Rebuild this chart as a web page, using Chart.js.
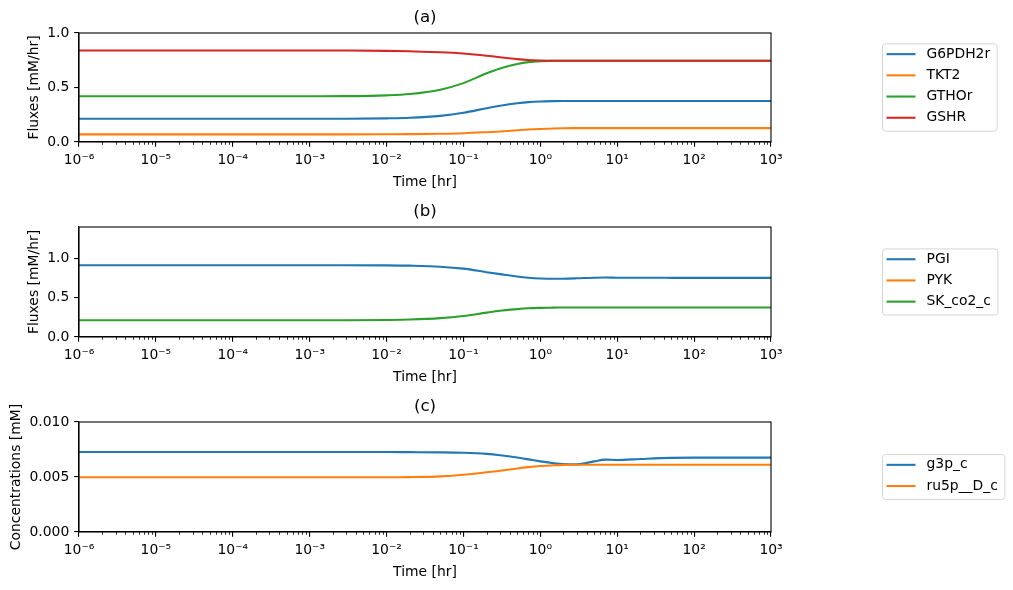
<!DOCTYPE html>
<html><head><meta charset="utf-8">
<script src="https://cdn.jsdelivr.net/npm/chart.js@4.4.0/dist/chart.umd.min.js"></script>
<style>
html,body{margin:0;padding:0;background:#fff;width:1013px;height:590px;overflow:hidden}
.w{position:absolute;left:0;width:1013px;height:195px}
canvas{display:block}
</style></head><body>
<div class="w" style="top:0"><canvas id="ca" width="1013" height="195"></canvas></div>
<div class="w" style="top:195px"><canvas id="cb" width="1013" height="195"></canvas></div>
<div class="w" style="top:390px"><canvas id="cc" width="1013" height="195"></canvas></div>
<script>
// ---- data ----
const times = [1e-6, 1e-5, 1e-4, 1e-3, 3e-3, 1e-2, 2e-2, 5e-2, 0.1, 0.2, 0.3, 0.5, 0.7, 1, 1.5, 2, 3, 5, 7, 10, 20, 50, 100, 1000];

const G6PDH2r = [0.214,0.214,0.214,0.214,0.214,0.217,0.222,0.240,0.268,0.310,0.332,0.355,0.366,0.372,0.375,0.376,0.376,0.376,0.376,0.376,0.376,0.376,0.376,0.376];
const TKT2    = [0.070,0.070,0.070,0.070,0.070,0.071,0.072,0.075,0.080,0.090,0.097,0.108,0.115,0.120,0.124,0.126,0.127,0.127,0.127,0.127,0.127,0.127,0.127,0.127];
const GTHOr   = [0.420,0.420,0.420,0.420,0.421,0.428,0.440,0.480,0.540,0.630,0.675,0.715,0.733,0.742,0.745,0.746,0.746,0.746,0.746,0.746,0.746,0.746,0.746,0.746];
const GSHR    = [0.840,0.840,0.840,0.840,0.839,0.836,0.832,0.824,0.812,0.792,0.777,0.760,0.752,0.748,0.746,0.746,0.746,0.746,0.746,0.746,0.746,0.746,0.746,0.746];

const PGI     = [0.914,0.914,0.914,0.914,0.914,0.912,0.908,0.895,0.870,0.825,0.800,0.770,0.755,0.745,0.741,0.742,0.747,0.755,0.757,0.755,0.754,0.753,0.753,0.753];
// PYK lies above the plotted y range (0 to 1.4) and is therefore not visible
const PYK     = [2.24,2.24,2.24,2.24,2.24,2.24,2.24,2.23,2.22,2.21,2.20,2.20,2.20,2.20,2.20,2.20,2.20,2.20,2.20,2.20,2.20,2.20,2.20,2.20];
const SK_co2_c= [0.214,0.214,0.214,0.214,0.214,0.217,0.222,0.240,0.268,0.310,0.333,0.355,0.366,0.371,0.374,0.376,0.376,0.376,0.376,0.376,0.376,0.376,0.376,0.376];

const g3p_c    = [0.00727,0.00727,0.00727,0.00727,0.00727,0.00727,0.00726,0.00724,0.00720,0.00710,0.00698,0.00677,0.00660,0.00642,0.00625,0.00617,0.00615,0.00642,0.00658,0.00655,0.00664,0.00674,0.00676,0.00676];
const ru5p__D_c= [0.00497,0.00497,0.00497,0.00497,0.00497,0.00497,0.00499,0.00506,0.00520,0.00543,0.00556,0.00578,0.00590,0.00600,0.00607,0.00610,0.00612,0.00612,0.00612,0.00612,0.00612,0.00612,0.00612,0.00612];

const xTickValues = [1e-6, 1e-5, 1e-4, 1e-3, 1e-2, 1e-1, 1e0, 1e1, 1e2, 1e3];
const yTicksA = [0, 0.5, 1.0];
const yTicksB = [0, 0.5, 1.0];
const yTicksC = [0, 0.005, 0.010];

const C = {blue:'#1f77b4', orange:'#ff7f0e', green:'#2ca02c', red:'#d62728'};
// ---- rendering ----
const FONT = "'DejaVu Sans', sans-serif";
Chart.defaults.font.family = FONT;
Chart.defaults.color = '#000';
const SUP = {'-':'\u207B','0':'\u2070','1':'\u00B9','2':'\u00B2','3':'\u00B3','4':'\u2074','5':'\u2075','6':'\u2076','7':'\u2077','8':'\u2078','9':'\u2079'};

const mplPlugin = {
  id: 'mpl',
  afterDraw(chart, args, opts) {
    const ctx = chart.ctx, a = chart.chartArea, xs = chart.scales.x;
    ctx.save();
    // minor ticks
    ctx.strokeStyle = '#000'; ctx.lineWidth = 0.8;
    for (let k = -6; k < 3; k++) {
      for (let m = 2; m <= 9; m++) {
        const px = Math.round(xs.getPixelForValue(m * Math.pow(10, k))) + 0.5;
        ctx.beginPath(); ctx.moveTo(px, a.bottom); ctx.lineTo(px, a.bottom + 2.8); ctx.stroke();
      }
    }
    // spines
    ctx.lineWidth = 1.1;
    ctx.strokeRect(a.left, a.top, a.right - a.left, a.bottom - a.top);
    // axes title
    ctx.fillStyle = '#000';
    ctx.font = "16.67px " + FONT;
    ctx.textAlign = 'center'; ctx.textBaseline = 'middle';
    ctx.fillText(opts.title, (a.left + a.right) / 2, a.top - 15);
    // legend
    const ds = chart.data.datasets;
    ctx.font = "13.9px " + FONT;
    const tw = Math.max(...ds.map(d => ctx.measureText(d.label).width));
    const x0 = 882.5, w = 44 + tw + 7, rowH = 21.2;
    const h = ds.length * rowH + 2.5;
    const y0 = (a.top + a.bottom) / 2 - h / 2;
    ctx.beginPath();
    ctx.roundRect(x0, y0, w, h, 3);
    ctx.fillStyle = 'rgba(255,255,255,0.8)'; ctx.fill();
    ctx.strokeStyle = '#d5d5d5'; ctx.lineWidth = 1; ctx.stroke();
    ds.forEach((d, i) => {
      const y = y0 + 10.3 + i * rowH;
      ctx.strokeStyle = d.borderColor; ctx.lineWidth = 2.08;
      ctx.beginPath(); ctx.moveTo(x0 + 4, y); ctx.lineTo(x0 + 33, y); ctx.stroke();
      ctx.fillStyle = '#000'; ctx.textBaseline = 'middle'; ctx.textAlign = 'left';
      ctx.fillText(d.label, x0 + 44, y);
    });
    ctx.restore();
  }
};

function axisCommon() {
  return {
    grid: {display: true, drawOnChartArea: false, drawTicks: true, tickLength: 4.86, color: '#000', lineWidth: 1.1},
    border: {display: true, color: '#000', width: 1.1}
  };
}

function makeChart(id, title, topPad, ylabel, ylabelPad, yMax, yTicks, yDigits, series) {
  return new Chart(document.getElementById(id), {
    type: 'line',
    data: {
      datasets: series.map((s, i) => ({
        label: s.label,
        data: times.map((t, j) => ({x: t, y: s.values[j]})),
        borderColor: s.color, backgroundColor: s.color,
        borderWidth: 2.08, pointRadius: 0, cubicInterpolationMode: 'monotone',
        fill: false, order: -i, clip: 0
      }))
    },
    options: {
      responsive: false, animation: false, events: [],
      layout: {padding: {left: 0, right: 242, top: topPad, bottom: 0}},
      plugins: {
        legend: {display: false}, tooltip: {enabled: false}, title: {display: false},
        mpl: {title: title}
      },
      scales: {
        x: Object.assign(axisCommon(), {
          type: 'logarithmic', min: 1e-6, max: 1e3,
          afterBuildTicks: s => { s.ticks = xTickValues.map(v => ({value: v, major: true})); },
          afterFit: s => { s.height = 53; },
          ticks: {autoSkip: false, maxRotation: 0, minRotation: 0, color: '#000', font: {size: 13.9}, padding: 5,
            callback: v => '10' + String(Math.round(Math.log10(v))).split('').map(c => SUP[c]).join('')},
          title: {display: true, text: 'Time [hr]', color: '#000', font: {size: 13.9}, padding: {top: 0, bottom: 4.7}}
        }),
        y: Object.assign(axisCommon(), {
          type: 'linear', min: 0, max: yMax,
          afterBuildTicks: s => { s.ticks = yTicks.map(v => ({value: v})); },
          afterFit: s => { s.width = 79; },
          ticks: {color: '#000', font: {size: 13.9}, padding: 4.86, callback: v => Number(v).toFixed(yDigits)},
          title: {display: true, text: ylabel, color: '#000', font: {size: 13.9}, padding: {top: ylabelPad, bottom: 0}}
        })
      }
    },
    plugins: [mplPlugin]
  });
}

makeChart('ca', '(a)', 33, 'Fluxes [mM/hr]', 25.7, 1.0, yTicksA, 1, [
  {label: 'G6PDH2r', values: G6PDH2r, color: C.blue},
  {label: 'TKT2', values: TKT2, color: C.orange},
  {label: 'GTHOr', values: GTHOr, color: C.green},
  {label: 'GSHR', values: GSHR, color: C.red}
]);
makeChart('cb', '(b)', 32, 'Fluxes [mM/hr]', 25.7, 1.4, yTicksB, 1, [
  {label: 'PGI', values: PGI, color: C.blue},
  {label: 'PYK', values: PYK, color: C.orange},
  {label: 'SK_co2_c', values: SK_co2_c, color: C.green}
]);
makeChart('cc', '(c)', 32, 'Concentrations [mM]', 8.2, 0.010, yTicksC, 3, [
  {label: 'g3p_c', values: g3p_c, color: C.blue},
  {label: 'ru5p__D_c', values: ru5p__D_c, color: C.orange}
]);
</script>
</body></html>
